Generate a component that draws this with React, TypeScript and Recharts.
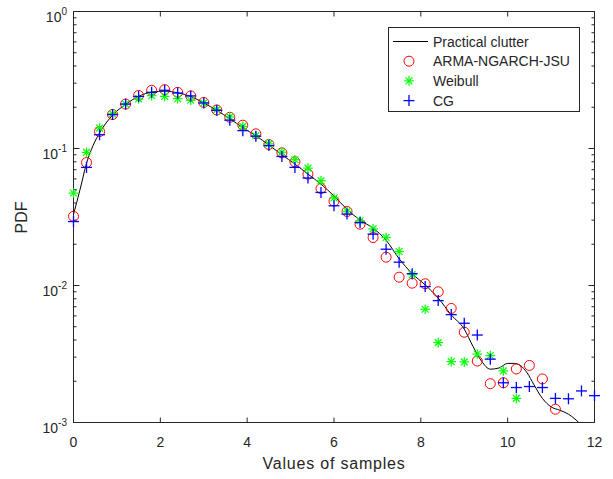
import React from 'react';
import { ComposedChart, Line, Scatter, XAxis, YAxis, ReferenceArea, Legend } from 'recharts';

// ---------- data ----------
const X_MARKS = [0, 0.3, 0.6, 0.9, 1.2, 1.5, 1.8, 2.1, 2.4, 2.7, 3.0, 3.3, 3.6, 3.9, 4.2, 4.5, 4.8, 5.1, 5.4, 5.7, 6.0, 6.3, 6.6, 6.9, 7.2, 7.5, 7.8, 8.1, 8.4, 8.7, 9.0, 9.3, 9.6, 9.9, 10.2, 10.5, 10.8, 11.1, 11.4, 11.7, 12.0];

const ARMA_Y = [0.032, 0.079, 0.133, 0.177, 0.211, 0.244, 0.266, 0.269, 0.257, 0.242, 0.217, 0.191, 0.169, 0.148, 0.128, 0.107, 0.093, 0.080, 0.065, 0.051, 0.0413, 0.0347, 0.028, 0.0224, 0.0161, 0.0115, 0.0104, 0.0103, 0.0090, 0.0068, 0.00456, 0.00281, 0.00192, 0.00195, 0.00246, 0.00261, 0.00208, 0.00125];

const WEIBULL_Y = [0.0473, 0.0937, 0.141, 0.179, 0.211, 0.230, 0.243, 0.240, 0.231, 0.225, 0.215, 0.192, 0.170, 0.145, 0.124, 0.108, 0.094, 0.0828, 0.0719, 0.0581, 0.0435, 0.0347, 0.0297, 0.0259, 0.0224, 0.0177, 0.0120, 0.00671, 0.00383, 0.00278, 0.00277, 0.00316, 0.00308, 0.00238, 0.0015];

const CG_Y = [0.0293, 0.0728, 0.126, 0.177, 0.211, 0.240, 0.257, 0.266, 0.254, 0.242, 0.215, 0.190, 0.161, 0.135, 0.123, 0.105, 0.0875, 0.0728, 0.0609, 0.0478, 0.0382, 0.0332, 0.0288, 0.0237, 0.0184, 0.0148, 0.0122, 0.00982, 0.00776, 0.00613, 0.0053, 0.00435, 0.0029, 0.00195, 0.0018, 0.00183, 0.0018, 0.0015, 0.00149, 0.0017, 0.00157];

const CURVE_X = [0, 0.15, 0.3, 0.45, 0.6, 0.9, 1.2, 1.5, 1.8, 2.1, 2.4, 2.7, 3.0, 3.3, 3.6, 3.9, 4.2, 4.5, 4.8, 5.1, 5.4, 5.7, 6.0, 6.3, 6.6, 6.9, 7.2, 7.5, 7.8, 8.1, 8.4, 8.7, 9.0, 9.2, 9.4, 9.6, 9.8, 10.0, 10.15, 10.3, 10.45, 10.6, 10.8, 11.0, 11.2, 11.4, 11.55, 11.64];
const CURVE_Y = [0.033, 0.05, 0.078, 0.105, 0.13, 0.175, 0.21, 0.24, 0.258, 0.262, 0.255, 0.24, 0.215, 0.19, 0.165, 0.142, 0.124, 0.106, 0.09, 0.077, 0.065, 0.055, 0.045, 0.036, 0.030, 0.0262, 0.0214, 0.0157, 0.0122, 0.0101, 0.0081, 0.0061, 0.0048, 0.0036, 0.0028, 0.00245, 0.0025, 0.0027, 0.0027, 0.0026, 0.0023, 0.0019, 0.0015, 0.0013, 0.00123, 0.00115, 0.00106, 0.001];

const X_TICKS = [0, 2, 4, 6, 8, 10, 12];
const Y_DECADES = [-3, -2, -1, 0];

const SERIES_NAMES = ['Practical clutter', 'ARMA-NGARCH-JSU', 'Weibull', 'CG'];
const SERIES_COLORS = ['#000000', '#ff0000', '#00ff00', '#0000ff'];

// ---------- derived ----------
const toPoints = (ys: number[]) => ys.map((y, i) => ({ x: X_MARKS[i], y }));
const armaData = toPoints(ARMA_Y);
const weibullData = toPoints(WEIBULL_Y);
const cgData = toPoints(CG_Y);
const curveData = CURVE_X.map((x, i) => ({ x, y: CURVE_Y[i] }));

const Y_TICKS: number[] = [];
Y_DECADES.forEach((d) => {
  if (d === 0) { Y_TICKS.push(1); return; }
  for (let m = 1; m <= 9; m++) Y_TICKS.push(Number((m * Math.pow(10, d)).toPrecision(6)));
});

// ---------- layout ----------
const W = 613;
const H = 479;
const Y_AXIS_W = 73;
const X_AXIS_H = 56;
const MARGIN = { top: 11.5, right: 18.5, bottom: 0.5, left: 0.5 };
const PLOT_TOP = MARGIN.top;
const PLOT_BOTTOM = H - MARGIN.bottom - X_AXIS_H;
const PLOT_LEFT = MARGIN.left + Y_AXIS_W;
const PLOT_RIGHT = W - MARGIN.right;
const AXIS = '#262626';
const FONT = '"Liberation Sans", Arial, Helvetica, sans-serif';

// ---------- markers ----------
const CircleShape = (p: any) => (
  <circle cx={p.cx} cy={p.cy} r={5} fill="none" stroke={SERIES_COLORS[1]} strokeWidth={1} />
);
const StarShape = (p: any) => {
  const s = 4.8, d = 3.4;
  const c = SERIES_COLORS[2];
  return (
    <g stroke={c} strokeWidth={1.2}>
      <line x1={p.cx - s} x2={p.cx + s} y1={p.cy} y2={p.cy} />
      <line x1={p.cx} x2={p.cx} y1={p.cy - s} y2={p.cy + s} />
      <line x1={p.cx - d} x2={p.cx + d} y1={p.cy - d} y2={p.cy + d} />
      <line x1={p.cx - d} x2={p.cx + d} y1={p.cy + d} y2={p.cy - d} />
    </g>
  );
};
const PlusShape = (p: any) => {
  const s = 5.5;
  const c = SERIES_COLORS[3];
  return (
    <g stroke={c} strokeWidth={1.3}>
      <line x1={p.cx - s} x2={p.cx + s} y1={p.cy} y2={p.cy} />
      <line x1={p.cx} x2={p.cx} y1={p.cy - s} y2={p.cy + s} />
    </g>
  );
};

// ---------- ticks ----------
const XTick = (props: any) => {
  const { payload } = props;
  const x = payload && payload.coordinate != null ? payload.coordinate : props.x;
  return (
    <g>
      <line x1={x} x2={x} y1={PLOT_BOTTOM} y2={PLOT_BOTTOM - 5} stroke={AXIS} />
      <line x1={x} x2={x} y1={PLOT_TOP} y2={PLOT_TOP + 5} stroke={AXIS} />
      <text x={x} y={PLOT_BOTTOM + 24} textAnchor="middle" fontSize={14} fontFamily={FONT} fill={AXIS}>
        {payload.value}
      </text>
    </g>
  );
};

const YTick = (props: any) => {
  const { payload } = props;
  const v = payload.value;
  const y = payload && payload.coordinate != null ? payload.coordinate : props.y;
  const lg = Math.log10(v);
  const e = Math.round(lg);
  const major = Math.abs(lg - e) < 1e-6;
  const len = major ? 6 : 3;
  return (
    <g>
      <line x1={PLOT_LEFT} x2={PLOT_LEFT + len} y1={y} y2={y} stroke={AXIS} />
      <line x1={PLOT_RIGHT} x2={PLOT_RIGHT - len} y1={y} y2={y} stroke={AXIS} />
      {major && (
        <text x={67} y={y + 10.5} textAnchor="end" fontSize={14} fontFamily={FONT} fill={AXIS}>
          <tspan>10</tspan>
          <tspan dy={-7} fontSize={10}>{String(e)}</tspan>
        </text>
      )}
    </g>
  );
};

const XLabel = () => (
  <text x={334} y={469} textAnchor="middle" fontSize={16} letterSpacing={0.8} fontFamily={FONT} fill={AXIS}>
    Values of samples
  </text>
);
const YLabel = () => (
  <text x={27} y={217.5} transform="rotate(-90, 27, 217.5)" textAnchor="middle" fontSize={16} fontFamily={FONT} fill={AXIS}>
    PDF
  </text>
);

// ---------- legend ----------
const LegendBox = () => {
  const rowY = [14.5, 34.2, 53.9, 73.6];
  return (
    <svg width={192} height={86} style={{ display: 'block' }}>
      <rect x={0.5} y={0.5} width={191} height={84} fill="#ffffff" stroke={AXIS} strokeWidth={1} />
      {SERIES_NAMES.map((name, i) => {
        const y = rowY[i];
        const cx = 21;
        let sym: any = null;
        if (i === 0) sym = <line x1={5} x2={40} y1={y} y2={y} stroke={SERIES_COLORS[0]} strokeWidth={1} />;
        if (i === 1) sym = <CircleShape cx={cx} cy={y} />;
        if (i === 2) sym = <StarShape cx={cx} cy={y} />;
        if (i === 3) sym = <PlusShape cx={cx} cy={y} />;
        return (
          <g key={name}>
            {sym}
            <text x={45} y={y + 5} fontSize={14} fontFamily={FONT} fill={AXIS}>{name}</text>
          </g>
        );
      })}
    </svg>
  );
};

export default function App() {
  return (
    <div style={{ position: 'absolute', left: 0, top: 0, width: W, height: H, background: '#ffffff' }}>
      <ComposedChart width={W} height={H} margin={MARGIN}>
        <XAxis
          type="number"
          dataKey="x"
          domain={[0, 12]}
          ticks={X_TICKS}
          interval={0}
          height={X_AXIS_H}
          tickLine={false}
          axisLine={{ stroke: AXIS }}
          tick={(p: any) => <XTick {...p} />}
          label={<XLabel />}
        />
        <YAxis
          type="number"
          scale="log"
          domain={[0.001, 1]}
          ticks={Y_TICKS}
          interval={0}
          width={Y_AXIS_W}
          tickLine={false}
          axisLine={{ stroke: AXIS }}
          tick={(p: any) => <YTick {...p} />}
          label={<YLabel />}
        />
        <ReferenceArea x1={0} x2={12} y1={0.001} y2={1} fill="none" stroke={AXIS} strokeWidth={1} ifOverflow="visible" />
        <Line
          data={curveData}
          dataKey="y"
          type="monotone"
          stroke={SERIES_COLORS[0]}
          strokeWidth={1}
          dot={false}
          activeDot={false}
          isAnimationActive={false}
          name={SERIES_NAMES[0]}
        />
        <Scatter data={armaData} dataKey="y" shape={<CircleShape />} isAnimationActive={false} name={SERIES_NAMES[1]} />
        <Scatter data={weibullData} dataKey="y" shape={<StarShape />} isAnimationActive={false} name={SERIES_NAMES[2]} />
        <Scatter data={cgData} dataKey="y" shape={<PlusShape />} isAnimationActive={false} name={SERIES_NAMES[3]} />
        <Legend
          layout="horizontal"
          verticalAlign="middle"
          align="center"
          content={<LegendBox />}
          wrapperStyle={{ position: 'absolute', left: 388, top: 27, width: 192, height: 86 }}
        />
      </ComposedChart>
    </div>
  );
}
